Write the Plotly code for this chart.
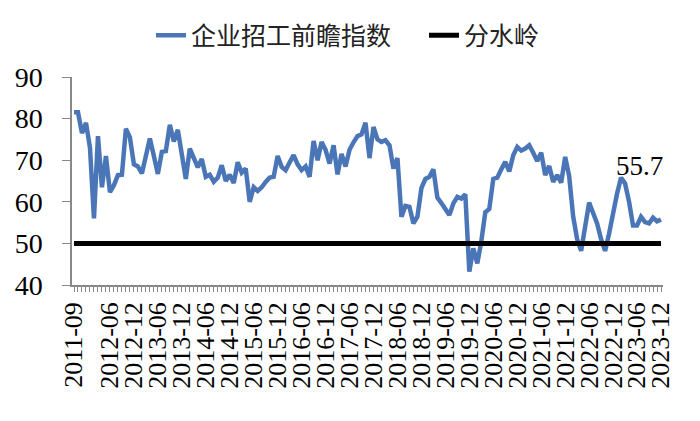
import plotly.graph_objects as go

start_year, start_month = 2011, 9
values = [
    81.5, 81.5, 76.5, 79.0, 73.0, 56.0, 75.8, 63.5, 71.0, 62.3,
    64.0, 66.4, 66.5, 77.6, 75.5, 69.0, 68.5, 66.8, 71.0, 75.2,
    71.0, 66.7, 72.0, 72.2, 78.5, 74.5, 77.3, 72.0, 65.5, 72.8,
    70.8, 68.3, 70.3, 66.0, 66.5, 64.8, 65.8, 68.8, 65.0, 66.5,
    64.5, 69.5, 67.0, 68.0, 60.0, 63.5, 62.6, 63.5, 64.8, 65.8,
    66.0, 71.0, 68.4, 67.6, 69.5, 71.2, 69.0, 67.6, 68.5, 66.0,
    74.6, 70.0, 74.4, 72.5, 69.2, 73.6, 66.6, 71.5, 68.5, 72.5,
    74.3, 75.8, 76.2, 79.0, 70.5, 78.0, 75.0, 74.4, 74.8, 73.6,
    68.0, 70.5, 56.4, 59.0, 58.8, 54.8, 56.4, 63.3, 65.5, 66.0,
    67.8, 61.0, 59.7, 58.2, 56.8, 59.6, 61.2, 60.8, 61.8, 43.2,
    48.8, 45.2, 50.5, 57.5, 58.3, 65.5, 65.8, 67.8, 69.6, 67.3,
    71.2, 73.2, 72.3, 72.8, 73.6, 71.8, 69.8, 71.8, 66.4, 68.6,
    64.8, 66.4, 64.6, 70.8, 66.2, 56.5, 51.0, 48.2, 54.8, 59.8,
    57.3, 54.8, 51.0, 48.2, 52.4, 57.5, 62.0, 65.8, 64.4, 60.0,
    54.3, 54.3, 56.4, 55.1, 54.8, 56.2, 55.3, 55.7,
]
months = []
y, m = start_year, start_month
for _ in values:
    months.append(f"{y}-{m:02d}")
    m += 1
    if m > 12:
        m = 1
        y += 1
threshold = [50] * len(values)
label_months = ["2011-09", "2012-06", "2012-12", "2013-06", "2013-12", "2014-06", "2014-12",
                "2015-06", "2015-12", "2016-06", "2016-12", "2017-06", "2017-12", "2018-06",
                "2018-12", "2019-06", "2019-12", "2020-06", "2020-12", "2021-06", "2021-12",
                "2022-06", "2022-12", "2023-06", "2023-12"]
last_label = "55.7"

idx = list(range(len(values)))
tickvals = [months.index(lm) for lm in label_months]

fig = go.Figure()
fig.add_trace(go.Scatter(x=idx, y=values, mode="lines", name="企业招工前瞻指数\u00a0\u00a0\u00a0\u00a0\u00a0",
                         line=dict(color="#4A76B8", width=4.5)))
fig.add_trace(go.Scatter(x=idx, y=threshold, mode="lines", name="分水岭",
                         line=dict(color="#000000", width=5)))
fig.add_annotation(x=141.5, y=68.5, text=last_label, showarrow=False,
                   font=dict(family="Liberation Serif", size=27, color="#000"))

fig.update_layout(
    width=700, height=421,
    margin=dict(l=72, r=37, t=77, b=136),
    paper_bgcolor="white", plot_bgcolor="white",
    showlegend=True,
    legend=dict(orientation="h", x=0.467, xanchor="center", y=1.20, yanchor="middle",
                font=dict(family="Noto Sans CJK SC", size=25, color="#222"),
                tracegroupgap=0),
)
fig.update_xaxes(range=[-0.5, 147.5], tickmode="array", tickvals=tickvals, ticktext=label_months,
                 tickangle=-90, showline=True, linecolor="#888", linewidth=1.5,
                 ticks="outside", ticklen=5, tickcolor="#888", showgrid=False, zeroline=False,
                 tickfont=dict(family="Liberation Serif", size=26, color="#000"),
                 minor=dict(tick0=0, dtick=1, ticks="outside", ticklen=5, tickcolor="#888", showgrid=False))
fig.update_yaxes(range=[40, 90], dtick=10, showline=True, linecolor="#888", linewidth=1.5,
                 ticks="outside", ticklen=8, tickcolor="#888", showgrid=False, zeroline=False,
                 ticklabelstandoff=14,
                 tickfont=dict(family="Liberation Serif", size=28, color="#000"))

fig.write_html("out.html")
